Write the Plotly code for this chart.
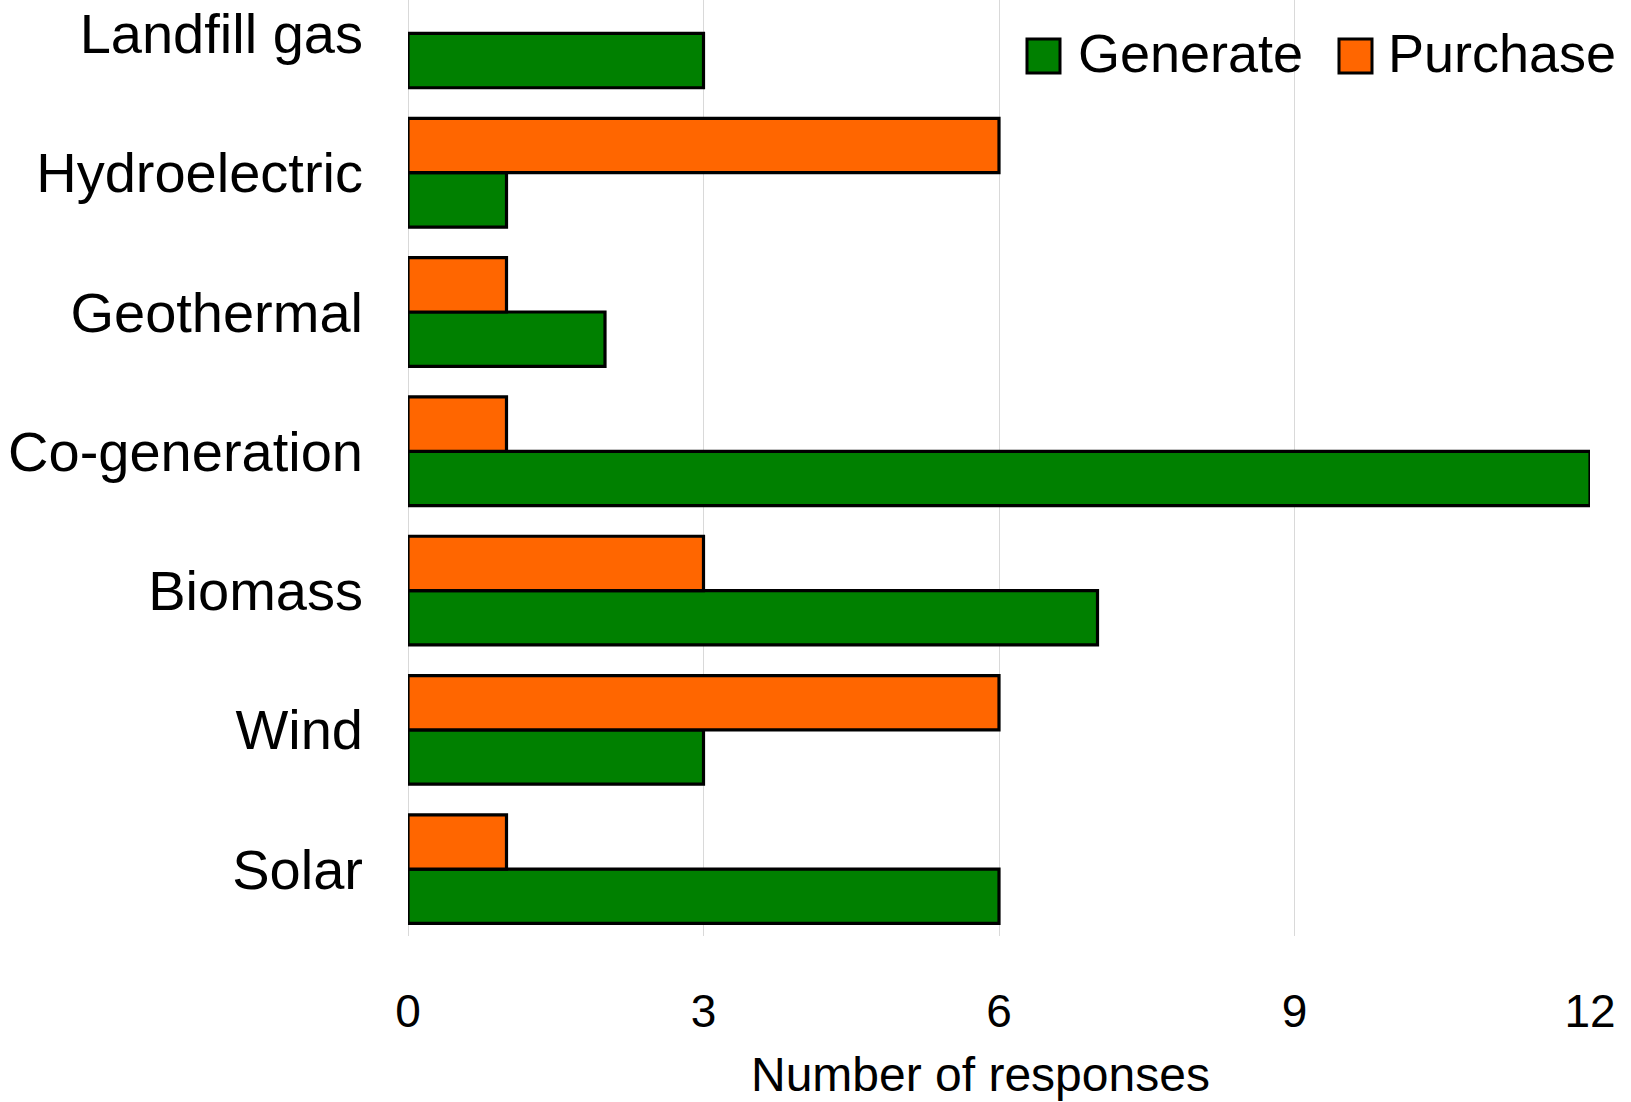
import plotly.graph_objects as go

# Renewable energy sources, listed bottom to top
sources = ["Solar", "Wind", "Biomass", "Co-generation", "Geothermal",
           "Hydroelectric", "Landfill gas"]
generate = [6, 3, 7, 12, 2, 1, 3]
purchase = [1, 6, 3, 1, 1, 6, None]
x_ticks = [0, 3, 6, 9, 12]

GREEN = "#008000"
ORANGE = "#FF6600"
FONT = "Liberation Sans, Arial, sans-serif"

W, H = 1631, 1102
L, R, T, B = 408, 41, 0, 166
pw, ph = W - L - R, H - T - B


def px_x(x):
    return (x - L) / pw


def px_y(y):
    return (H - B - y) / ph


fig = go.Figure()
fig.add_trace(go.Bar(
    y=sources, x=generate, orientation="h", name="Generate",
    marker=dict(color=GREEN, line=dict(color="#000000", width=3.2)),
    cliponaxis=False,
))
fig.add_trace(go.Bar(
    y=sources, x=purchase, orientation="h", name="Purchase",
    marker=dict(color=ORANGE, line=dict(color="#000000", width=3.2)),
    cliponaxis=False,
))

# Legend drawn as large swatches with labels
legend_items = [("Generate", GREEN, 1027, 1079), ("Purchase", ORANGE, 1339, 1389)]
shapes, annotations = [], []
for label, color, box_x, text_x in legend_items:
    shapes.append(dict(
        type="rect", xref="paper", yref="paper",
        x0=px_x(box_x), x1=px_x(box_x + 33), y0=px_y(73), y1=px_y(39),
        fillcolor=color, line=dict(color="#000000", width=3),
    ))
    annotations.append(dict(
        text=label, xref="paper", yref="paper",
        x=px_x(text_x - 3), y=px_y(53), xanchor="left", yanchor="middle",
        showarrow=False, font=dict(size=54, color="#000000", family=FONT),
    ))

annotations.append(dict(
    text="Number of responses", xref="paper", yref="paper",
    x=px_x(980), y=px_y(1074), xanchor="center", yanchor="middle",
    showarrow=False, font=dict(size=48, color="#000000", family=FONT),
))

fig.update_layout(
    width=W, height=H,
    margin=dict(l=L, r=R, t=T, b=B, pad=0),
    plot_bgcolor="#FFFFFF", paper_bgcolor="#FFFFFF",
    barmode="group", bargap=0.22, bargroupgap=0,
    showlegend=False,
    shapes=shapes, annotations=annotations,
    font=dict(family=FONT, color="#000000"),
)
fig.update_xaxes(
    range=[0, 12], tickvals=x_ticks, ticktext=[str(v) for v in x_ticks],
    showgrid=True, gridcolor="#D9D9D9", gridwidth=1,
    zeroline=True, zerolinecolor="#D9D9D9", zerolinewidth=1,
    showline=False, ticks="", ticklabelstandoff=44,
    tickfont=dict(size=46, family=FONT, color="#000000"),
    automargin=False, fixedrange=True,
)
fig.update_yaxes(
    type="category", categoryorder="array", categoryarray=sources,
    range=[-0.48, 6.24], showgrid=False, zeroline=False, showline=False,
    ticks="", ticklabelstandoff=44,
    tickfont=dict(size=56, family=FONT, color="#000000"),
    automargin=False, fixedrange=True,
)

fig.write_html("out.html", config={"displayModeBar": False})
